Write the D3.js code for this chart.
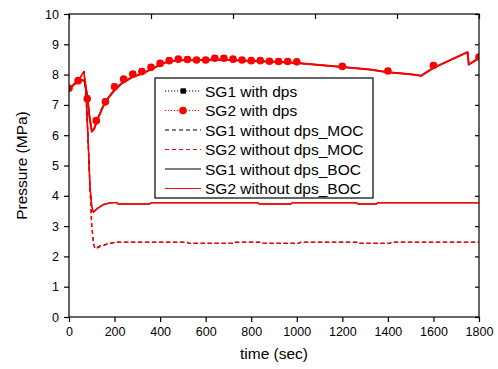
<!DOCTYPE html>
<html>
<head>
<meta charset="utf-8">
<script src="https://cdn.jsdelivr.net/npm/d3@7"></script>
<style>
    body { margin: 0; background: #fff; }
    text { font-family: "Liberation Sans", Arial, sans-serif; fill: #000; }
</style>
</head>
<body>
<script>
(function() {
    "use strict";

    //time points of the "with dps" lines (dense data, drawn as a line)
    var withTime = [0, 20, 40, 60, 70, 80, 90, 100, 110, 130, 150, 175, 200, 230, 275, 325, 385, 430, 480, 550, 650, 700, 800, 900, 1000, 1100, 1200, 1320, 1400, 1500, 1545, 1600, 1680, 1750, 1755, 1800];
    var sg1WithLine = [7.52, 7.66, 7.79, 7.82, 7.76, 7.32, 6.62, 6.14, 6.22, 6.62, 6.97, 7.27, 7.5, 7.71, 7.91, 8.05, 8.27, 8.42, 8.47, 8.47, 8.5, 8.48, 8.45, 8.42, 8.38, 8.32, 8.25, 8.17, 8.08, 8.01, 7.96, 8.22, 8.5, 8.74, 8.33, 8.55];
    var sg2WithLine = [7.52, 7.66, 7.78, 7.82, 7.75, 7.3, 6.6, 6.12, 6.2, 6.6, 6.95, 7.25, 7.48, 7.7, 7.9, 8.04, 8.26, 8.42, 8.47, 8.47, 8.5, 8.48, 8.45, 8.42, 8.38, 8.32, 8.25, 8.17, 8.08, 8.01, 7.96, 8.22, 8.5, 8.74, 8.33, 8.55];

    //time points where the "with dps" symbols are drawn
    var markTime = [0, 40, 80, 120, 160, 200, 240, 280, 320, 360, 400, 440, 480, 520, 560, 600, 640, 680, 720, 760, 800, 840, 880, 920, 960, 1000, 1200, 1400, 1600, 1800];
    var sg1WithMarks = [7.55, 7.8, 7.22, 6.5, 7.12, 7.61, 7.86, 8.03, 8.11, 8.25, 8.38, 8.47, 8.52, 8.51, 8.49, 8.49, 8.55, 8.55, 8.52, 8.49, 8.47, 8.47, 8.45, 8.44, 8.44, 8.43, 8.28, 8.13, 8.31, 8.58];
    var sg2WithMarks = [7.55, 7.8, 7.2, 6.48, 7.1, 7.6, 7.85, 8.02, 8.1, 8.24, 8.37, 8.46, 8.51, 8.5, 8.48, 8.48, 8.54, 8.54, 8.51, 8.48, 8.46, 8.46, 8.44, 8.43, 8.43, 8.42, 8.27, 8.12, 8.3, 8.58];

    //"without dps" MOC case
    var mocTime = [0, 20, 40, 66, 75, 83, 92, 100, 108, 114, 136, 160, 180, 205, 215, 520, 525, 720, 725, 840, 845, 1010, 1015, 1270, 1275, 1410, 1415, 1800];
    var sg1Moc = [7.52, 7.66, 7.8, 8.1, 7.3, 6.0, 4.3, 3.0, 2.42, 2.27, 2.35, 2.4, 2.44, 2.46, 2.47, 2.47, 2.43, 2.43, 2.47, 2.47, 2.43, 2.43, 2.47, 2.47, 2.43, 2.43, 2.47, 2.47];
    var sg2Moc = [7.52, 7.66, 7.8, 8.1, 7.3, 6.0, 4.3, 3.0, 2.4, 2.25, 2.32, 2.38, 2.43, 2.46, 2.47, 2.47, 2.43, 2.43, 2.47, 2.47, 2.43, 2.43, 2.47, 2.47, 2.43, 2.43, 2.47, 2.47];

    //"without dps" BOC case
    var bocTime = [0, 20, 40, 66, 75, 83, 92, 100, 107, 120, 150, 180, 210, 215, 355, 360, 830, 835, 975, 980, 1263, 1268, 1350, 1355, 1800];
    var sg1Boc = [7.52, 7.66, 7.8, 8.1, 7.3, 6.0, 4.3, 3.66, 3.47, 3.57, 3.72, 3.77, 3.78, 3.73, 3.73, 3.77, 3.77, 3.73, 3.73, 3.77, 3.77, 3.73, 3.73, 3.77, 3.77];
    var sg2Boc = [7.52, 7.66, 7.8, 8.1, 7.3, 6.0, 4.3, 3.65, 3.45, 3.55, 3.7, 3.76, 3.78, 3.73, 3.73, 3.77, 3.77, 3.73, 3.73, 3.77, 3.77, 3.73, 3.73, 3.77, 3.77];

    //axis ticks and legend labels
    var xTicks = [0, 200, 400, 600, 800, 1000, 1200, 1400, 1600, 1800];
    var yTicks = [0, 1, 2, 3, 4, 5, 6, 7, 8, 9, 10];
    var legendLabels = ["SG1 with dps", "SG2 with dps", "SG1 without dps_MOC", "SG2 without dps_MOC", "SG1 without dps_BOC", "SG2 without dps_BOC"];

    var WIDTH = 498, HEIGHT = 369;
    var LEFT = 69, RIGHT = 479, TOP = 14, BOTTOM = 317;

    var svg = d3.select("body").append("svg")
        .attr("width", WIDTH)
        .attr("height", HEIGHT);

    var x = d3.scaleLinear().domain([0, 1800]).range([LEFT, RIGHT]);
    var y = d3.scaleLinear().domain([0, 10]).range([BOTTOM, TOP]);

    svg.append("clipPath").attr("id", "plot")
        .append("rect")
        .attr("x", LEFT).attr("y", TOP)
        .attr("width", RIGHT - LEFT).attr("height", BOTTOM - TOP);

    //turn a pair of arrays into points
    function zip(t, v) {
        return t.map(function(d, i) { return [d, v[i]]; });
    }

    var line = d3.line()
        .x(function(d) { return x(d[0]); })
        .y(function(d) { return y(d[1]); });

    var plot = svg.append("g").attr("clip-path", "url(#plot)");

    function drawLine(t, v, color, width, dash) {
        plot.append("path")
            .datum(zip(t, v))
            .attr("d", line)
            .attr("fill", "none")
            .attr("stroke", color)
            .attr("stroke-width", width)
            .attr("stroke-linejoin", "round")
            .attr("stroke-dasharray", dash);
    }

    //series in legend order, so the last one ends up on top
    drawLine(withTime, sg1WithLine, "#000", 1.5, null);
    plot.selectAll("rect.sq")
        .data(zip(markTime, sg1WithMarks))
        .enter()
        .append("rect")
        .attr("class", "sq")
        .attr("x", function(d) { return x(d[0]) - 2.7; })
        .attr("y", function(d) { return y(d[1]) - 2.7; })
        .attr("width", 5.4)
        .attr("height", 5.4)
        .attr("fill", "#000");

    drawLine(withTime, sg2WithLine, "#f00", 2, null);
    plot.selectAll("circle.dot")
        .data(zip(markTime, sg2WithMarks))
        .enter()
        .append("circle")
        .attr("class", "dot")
        .attr("cx", function(d) { return x(d[0]); })
        .attr("cy", function(d) { return y(d[1]); })
        .attr("r", 3.8)
        .attr("fill", "#f00");

    drawLine(mocTime, sg1Moc, "#000", 1, "4,3");
    drawLine(mocTime, sg2Moc, "#f00", 1.5, "4,3");
    drawLine(bocTime, sg1Boc, "#000", 1, null);
    drawLine(bocTime, sg2Boc, "#f00", 1.5, null);

    //frame
    svg.append("rect")
        .attr("x", LEFT).attr("y", TOP)
        .attr("width", RIGHT - LEFT).attr("height", BOTTOM - TOP)
        .attr("fill", "none")
        .attr("stroke", "#000")
        .attr("stroke-width", 1.2);

    //bottom axis: major ticks every 200, minor every 100, pointing out
    var xAxis = svg.append("g").attr("transform", "translate(0," + BOTTOM + ")");
    xAxis.call(d3.axisBottom(x).tickValues(d3.range(100, 1800, 200)).tickSize(3).tickFormat(""));
    xAxis.call(d3.axisBottom(x).tickValues(xTicks).tickSize(5).tickPadding(5).tickFormat(d3.format("d")));

    //left axis: major ticks every 1, minor every 0.5
    var yAxis = svg.append("g").attr("transform", "translate(" + LEFT + ",0)");
    yAxis.call(d3.axisLeft(y).tickValues(d3.range(0.5, 10, 1)).tickSize(3).tickFormat(""));
    yAxis.call(d3.axisLeft(y).tickValues(yTicks).tickSize(5).tickPadding(5).tickFormat(d3.format("d")));

    //right axis ticks point inward
    svg.append("g").attr("transform", "translate(" + RIGHT + ",0)")
        .call(d3.axisLeft(y).tickValues(yTicks).tickSize(4).tickFormat(""));

    //top axis has five inward divisions
    svg.append("g").attr("transform", "translate(0," + TOP + ")")
        .call(d3.axisBottom(x).tickValues(d3.range(0, 1801, 360)).tickSize(5).tickFormat(""));

    svg.selectAll(".domain").remove();
    svg.selectAll(".tick line").attr("stroke", "#000").attr("stroke-width", 1.2);
    svg.selectAll(".tick text")
        .style("font-family", "'Liberation Sans', Arial, sans-serif")
        .style("font-size", "12.5px")
        .attr("fill", "#000");

    //axis titles
    svg.append("text")
        .attr("x", (LEFT + RIGHT) / 2 + 0)
        .attr("y", 359)
        .attr("text-anchor", "middle")
        .style("font-size", "15.5px")
        .text("time (sec)");

    svg.append("text")
        .attr("transform", "translate(27," + ((TOP + BOTTOM) / 2) + ") rotate(-90)")
        .attr("text-anchor", "middle")
        .style("font-size", "15.5px")
        .text("Pressure (MPa)");

    //legend
    var LEG_X = 155, LEG_Y = 78, LEG_W = 218, LEG_H = 120, ROW = 19.5;
    var legend = svg.append("g");
    legend.append("rect")
        .attr("x", LEG_X).attr("y", LEG_Y)
        .attr("width", LEG_W).attr("height", LEG_H)
        .attr("fill", "#fff")
        .attr("stroke", "#000")
        .attr("stroke-width", 1.2);

    var legStyles = [
        { color: "#000", dash: "1.2,1.8", width: 1.2, mark: "square" },
        { color: "#f00", dash: "1.2,1.8", width: 1.2, mark: "circle" },
        { color: "#000", dash: "4,3", width: 1, mark: null },
        { color: "#f00", dash: "4,3", width: 1, mark: null },
        { color: "#000", dash: null, width: 1.2, mark: null },
        { color: "#f00", dash: null, width: 1.2, mark: null }
    ];

    var rows = legend.selectAll("g.row")
        .data(legendLabels)
        .enter()
        .append("g")
        .attr("class", "row")
        .attr("transform", function(d, i) { return "translate(0," + (LEG_Y + 13 + i * ROW) + ")"; });

    rows.append("line")
        .attr("x1", 165).attr("x2", 201)
        .attr("stroke", function(d, i) { return legStyles[i].color; })
        .attr("stroke-width", function(d, i) { return legStyles[i].width; })
        .attr("stroke-dasharray", function(d, i) { return legStyles[i].dash; });

    rows.filter(function(d, i) { return legStyles[i].mark === "square"; })
        .append("rect")
        .attr("x", 180.5).attr("y", -2.7)
        .attr("width", 5.4).attr("height", 5.4)
        .attr("fill", "#000");

    rows.filter(function(d, i) { return legStyles[i].mark === "circle"; })
        .append("circle")
        .attr("cx", 183).attr("cy", 0)
        .attr("r", 3.8)
        .attr("fill", "#f00");

    rows.append("text")
        .attr("x", 205)
        .attr("y", 5.5)
        .style("font-size", "15.5px")
        .text(function(d) { return d; });
}());
</script>
</body>
</html>
